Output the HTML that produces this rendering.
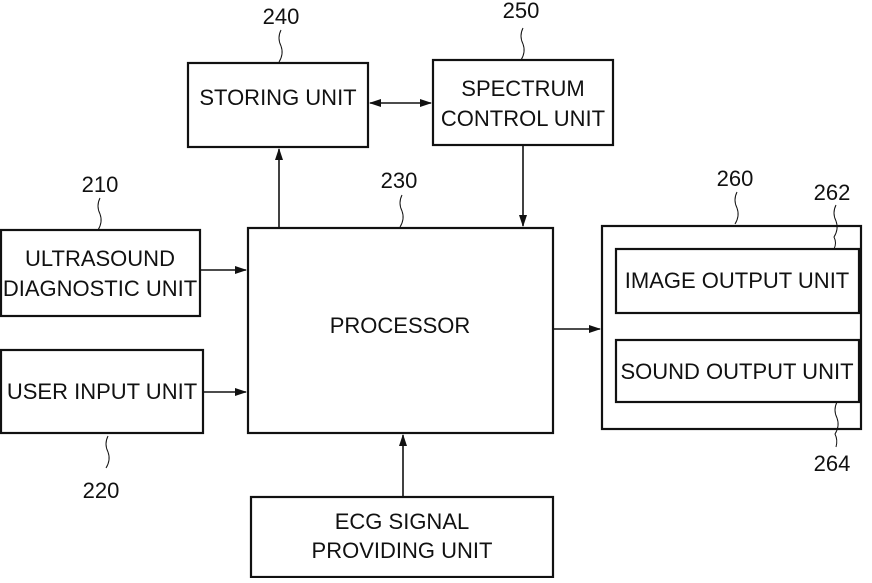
<!DOCTYPE html>
<html><head><style>
body{margin:0;background:#fff;}
svg text{font-family:"Liberation Sans Narrow","Liberation Sans",sans-serif;font-size:22px;fill:#111;text-anchor:middle;}
</style></head><body>
<svg width="872" height="578" viewBox="0 0 872 578" xmlns="http://www.w3.org/2000/svg">
<defs><marker id="a" markerWidth="12" markerHeight="8" refX="11" refY="4" orient="auto-start-reverse" markerUnits="userSpaceOnUse"><path d="M0,0 L12,4 L0,8 Z" fill="#111"/></marker></defs>
<g fill="none" stroke="#111" stroke-width="2.2">
<rect x="188" y="63" width="180" height="84"/>
<rect x="433" y="60" width="180" height="85"/>
<rect x="248" y="228" width="305" height="205"/>
<rect x="1" y="230" width="199" height="86"/>
<rect x="1" y="350" width="202" height="83"/>
<rect x="251" y="497" width="302" height="80"/>
<rect x="602" y="226" width="259" height="203"/>
<rect x="616" y="249" width="243" height="64"/>
<rect x="616" y="340" width="243" height="62"/>
</g>
<g stroke="#111" stroke-width="1.6" fill="none">
<line x1="279" y1="228" x2="279" y2="149" marker-end="url(#a)"/>
<line x1="523" y1="145" x2="523" y2="226" marker-end="url(#a)"/>
<line x1="370" y1="103" x2="431" y2="103" marker-start="url(#a)" marker-end="url(#a)"/>
<line x1="403" y1="497" x2="403" y2="435" marker-end="url(#a)"/>
<line x1="553" y1="329" x2="600" y2="329" marker-end="url(#a)"/>
<line x1="200" y1="270" x2="246" y2="270" marker-end="url(#a)"/>
<line x1="203" y1="392" x2="246" y2="392" marker-end="url(#a)"/>
<path d="M281 30 q-4 8 0 16 q3 8 -2 16" stroke-width="1"/>
<path d="M523 28 q-4 8 0 16 q3 8 -2 16" stroke-width="1"/>
<path d="M100 198 q-4 8 0 16 q3 8 -2 16" stroke-width="1"/>
<path d="M402 195 q-4 8 0 16 q3 8 -2 16" stroke-width="1"/>
<path d="M737 192 q-4 8 0 16 q3 8 -2 16" stroke-width="1"/>
<path d="M836 205 q-4 8 0 16 q3 8 -2 16 q3 6 0 12" stroke-width="1"/>
<path d="M837 402 q-4 8 0 16 q3 8 -2 16 q3 6 1 13" stroke-width="1"/>
<path d="M108 436 q-4 8 0 16 q3 8 -2 16" stroke-width="1"/>
</g>
<text x="278" y="105">STORING UNIT</text>
<text x="523" y="96">SPECTRUM</text>
<text x="523" y="126">CONTROL UNIT</text>
<text x="400" y="333">PROCESSOR</text>
<text x="100" y="266">ULTRASOUND</text>
<text x="100" y="296">DIAGNOSTIC UNIT</text>
<text x="102" y="399">USER INPUT UNIT</text>
<text x="402" y="529">ECG SIGNAL</text>
<text x="402" y="558">PROVIDING UNIT</text>
<text x="737" y="288">IMAGE OUTPUT UNIT</text>
<text x="737" y="379">SOUND OUTPUT UNIT</text>
<text x="281" y="24">240</text>
<text x="521" y="18">250</text>
<text x="100" y="192">210</text>
<text x="399" y="188">230</text>
<text x="735" y="186">260</text>
<text x="832" y="200">262</text>
<text x="832" y="471">264</text>
<text x="101" y="498">220</text>
</svg>
</body></html>
